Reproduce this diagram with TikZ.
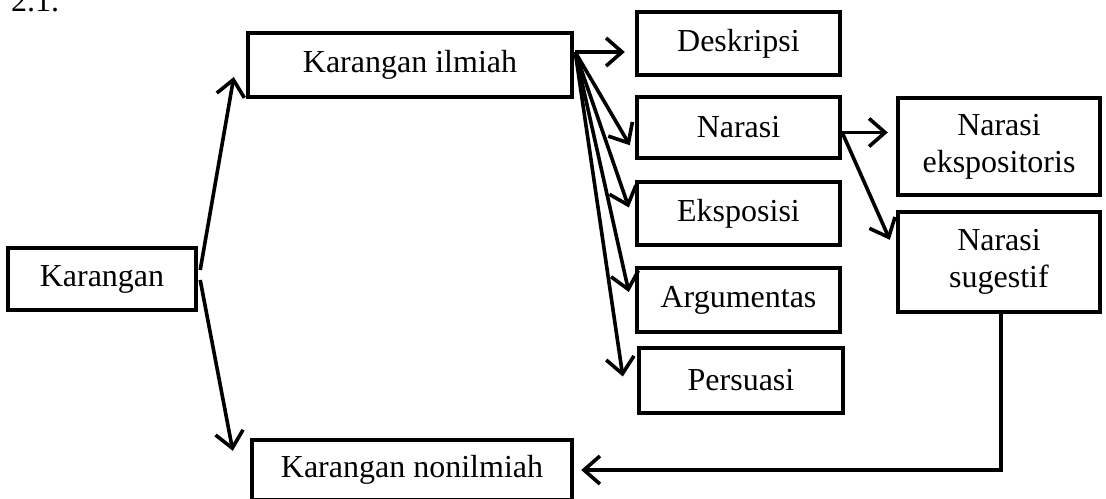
\documentclass[tikz,border=0pt]{standalone}
\usepackage{fontspec}
\setmainfont{Liberation Serif}
\usetikzlibrary{arrows.meta,calc}
\tikzset{
  kotak/.style={draw, line width=2.2pt, align=center, inner sep=0pt, font=\fontsize{16}{18.5}\selectfont},
  panah/.style={line width=1.8pt, -{Straight Barb[length=8pt,width=14pt,line width=1.8pt]}}
}
\begin{document}
\begin{tikzpicture}[x=0.5pt,y=-0.5pt]
            \useasboundingbox (0,0) rectangle (1106,498);
            \node[anchor=base west, font=\fontsize{16}{18.5}\selectfont] (judul) at (4,11) {2.1.};
            % kotak-kotak
            \node[kotak, minimum width=94pt, minimum height=31pt] (kar) at (102,279) {Karangan};
            \node[kotak, minimum width=162pt, minimum height=32pt] (ilm) at (410,65) {Karangan ilmiah};
            \node[kotak, minimum width=160pt, minimum height=30pt] (non) at (412,470) {Karangan nonilmiah};
            \node[kotak, minimum width=101.5pt, minimum height=31.5pt] (des) at (738.5,43.5) {Deskripsi};
            \node[kotak, minimum width=101.5pt, minimum height=30.5pt] (nar) at (738.5,127.5) {Narasi};
            \node[kotak, minimum width=101.5pt, minimum height=31.5pt] (eks) at (738.5,213.5) {Eksposisi};
            \node[kotak, minimum width=101.5pt, minimum height=32pt] (arg) at (738.5,300) {Argumentas};
            \node[kotak, minimum width=102pt, minimum height=32.5pt] (per) at (741,380.5) {Persuasi};
            \node[kotak, minimum width=101pt, minimum height=48.5pt] (nex) at (999,146.5) {Narasi\\ekspositoris};
            \node[kotak, minimum width=101pt, minimum height=50pt] (nsu) at (999,262) {Narasi\\sugestif};
            % panah
            \coordinate (ka) at ($(kar.east)+(2,-9)$);
            \coordinate (kb) at ($(kar.east)+(2,1)$);
            \draw[panah] (ka) -- ($(ilm.west)+(-12,12)$);
            \draw[panah] (kb) -- ($(non.north west)+(-17,13)$);
            \coordinate (ia) at ($(ilm.east)+(1,-13)$);
            \draw[panah] (ia) -- ($(ia -| des.west)+(-10,0)$);
            \draw[panah] (ia) -- ($(nar.south west)+(-5,-15)$);
            \draw[panah] (ia) -- ($(eks.west)+(-6,-6)$);
            \draw[panah] (ia) -- ($(arg.west)+(-6,-8)$);
            \draw[panah] (ia) -- ($(per.west)+(-14,-4)$);
            \coordinate (na) at ($(nar.east)+(0,5)$);
            \draw[panah] (na) -- ($(na -| nex.west)+(-8,0)$);
            \draw[panah] (na) -- ($(nsu.north west)+(-6,30)$);
            \draw[panah] ($(nsu.south)+(2,0)$) |- ($(non.east)+(7,0)$);
        \end{tikzpicture}
\end{document}
